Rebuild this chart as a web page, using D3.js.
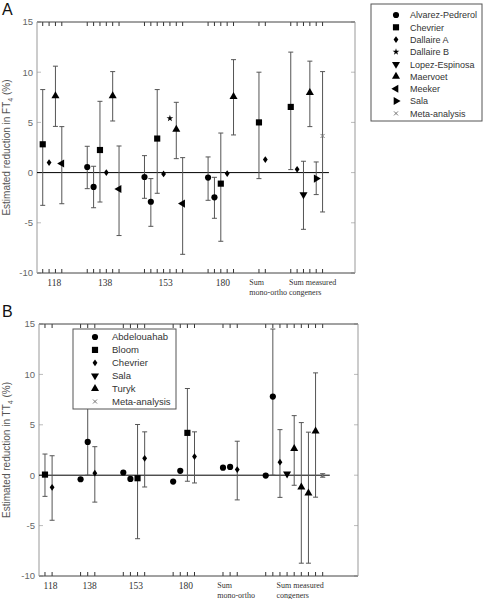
<!DOCTYPE html>
<html><head><meta charset="utf-8">
<script src="https://cdn.jsdelivr.net/npm/d3@7"></script>
<style>html,body{margin:0;padding:0;background:#fff}
.sans{font-family:"Liberation Sans",Arial,sans-serif}
.serif{font-family:"Liberation Serif","Times New Roman",serif}
</style>
</head><body>
<svg id="c" width="484" height="599"></svg>
<script>
// ---------- shared ----------
const yTicks = [-10, -5, 0, 5, 10, 15];
const yDomain = [-10, 15];

// ---------- Panel A (FT4) ----------
const groupsA = ["118", "138", "153", "180", "Sum|mono-ortho", "Sum measured|congeners"];
const studyA = [
  "Chevrier","Dallaire A","Maervoet","Meeker",
  "Alvarez-Pedrerol","Alvarez-Pedrerol","Chevrier","Dallaire A","Maervoet","Meeker",
  "Alvarez-Pedrerol","Alvarez-Pedrerol","Chevrier","Dallaire A","Dallaire B","Maervoet","Meeker",
  "Alvarez-Pedrerol","Alvarez-Pedrerol","Chevrier","Dallaire A","Maervoet",
  "Chevrier","Dallaire A",
  "Chevrier","Dallaire A","Lopez-Espinosa","Maervoet","Sala","Meta-analysis"
];
const groupOfA = [0,0,0,0, 1,1,1,1,1,1, 2,2,2,2,2,2,2, 3,3,3,3,3, 4,4, 5,5,5,5,5,5];
const valA = [2.82,1.0,7.63,0.9, 0.56,-1.43,2.25,0.0,7.63,-1.63, -0.44,-2.9,3.39,-0.13,5.41,4.31,-3.09, -0.5,-2.46,-1.1,-0.1,7.57, 5.0,1.3, 6.54,0.33,-2.19,7.97,-0.6,3.65];
const loA  = [-3.26,null,4.6,-3.1, -1.6,-3.5,-2.93,null,5.14,-6.27, -2.56,-5.35,-2.06,null,null,1.39,-8.14, -2.76,-4.55,-6.84,null,3.75, -0.6,null, 0.3,null,-5.65,4.58,-2.19,-3.92];
const hiA  = [8.27,null,10.6,4.58, 2.62,0.63,7.1,null,10.06,2.65, 1.69,-0.6,8.27,null,null,7.0,1.49, 1.56,-0.47,3.94,null,11.25, 10.0,null, 12.0,null,1.13,11.1,1.06,10.06];
const legendA = ["Alvarez-Pedrerol","Chevrier","Dallaire A","Dallaire B","Lopez-Espinosa","Maervoet","Meeker","Sala","Meta-analysis"];
const symbolsA = ["circle","square","diamond","star","down","up","left","right","times"];

// ---------- Panel B (TT4) ----------
const groupsB = ["118", "138", "153", "180", "Sum|mono-ortho", "Sum measured|congeners"];
const studyB = [
  "Bloom","Chevrier",
  "Abdelouahab","Abdelouahab","Chevrier",
  "Abdelouahab","Abdelouahab","Bloom","Chevrier",
  "Abdelouahab","Abdelouahab","Bloom","Chevrier",
  "Abdelouahab","Abdelouahab","Chevrier",
  "Abdelouahab","Abdelouahab","Chevrier","Sala","Turyk","Turyk","Turyk","Turyk","Meta-analysis"
];
const groupOfB = [0,0, 1,1,1, 2,2,2,2, 3,3,3,3, 4,4,4, 5,5,5,5,5,5,5,5,5];
const valB = [0.06,-1.2, -0.4,3.3,0.2, 0.27,-0.37,-0.3,1.67, -0.63,0.43,4.2,1.85, 0.75,0.82,0.56, -0.04,7.8,1.29,0.13,2.64,-1.19,-1.79,4.37,-0.02];
const loB  = [-2.1,-4.47, null,0.0,-2.67, null,null,-6.3,-1.17, null,null,-0.6,-0.77, null,null,-2.45, null,0.0,-2.2,null,-1.0,-8.73,-8.73,-2.18,-0.2];
const hiB  = [2.1,1.93, null,7.0,2.83, null,null,5.03,4.3, null,null,8.6,4.3, null,null,3.37, null,14.5,4.52,null,5.91,5.22,4.27,10.15,0.15];
const legendB = ["Abdelouahab","Bloom","Chevrier","Sala","Turyk","Meta-analysis"];
const symbolsB = ["circle","square","diamond","down","up","times"];

// ---------- drawing ----------
const svg = d3.select("#c");
const GAP = 3;

function symbolPath(kind) {
  switch (kind) {
    case "circle": return d3.symbol(d3.symbolCircle, 30)();
    case "square": return d3.symbol(d3.symbolSquare, 38)();
    case "diamond": return "M0,-3.4L2.4,0L0,3.4L-2.4,0Z";
    case "star": return d3.symbol(d3.symbolStar, 14)();
    case "up": case "down": case "left": case "right": return d3.symbol(d3.symbolTriangle, 28)();
    case "times": return "M-2,-2L2,2M2,-2L-2,2";
  }
}
const rot = {up:0, down:180, left:-90, right:90};
function drawSymbol(g, kind, x, y) {
  const p = g.append("path").attr("d", symbolPath(kind))
    .attr("transform", `translate(${x},${y})` + (kind in rot ? ` rotate(${rot[kind]})` : ""));
  if (kind === "times") p.attr("fill", "none").attr("stroke", "#777").attr("stroke-width", 1);
  else p.attr("fill", "#000");
}

function panel(cfg) {
  const {groups, study, groupOf, val, lo, hi, legend, symbols} = cfg;
  const g = svg.append("g");
  const counts = groups.map((_, i) => groupOf.filter(v => v === i).length);
  const starts = [];
  let s = 0;
  counts.forEach((c) => { starts.push(s); s += c + GAP; });
  const seen = groups.map(() => 0);
  const slot = groupOf.map(gi => starts[gi] + (seen[gi]++));
  const lastSlot = d3.max(slot);

  const x = d3.scaleLinear().domain(cfg.xDomain).range([cfg.x0, cfg.x1]);
  const y = d3.scaleLinear().domain(yDomain).range([cfg.y1, cfg.y0]);

  yTicks.forEach(t => {
    g.append("line").attr("x1", cfg.x0).attr("x2", cfg.x0 + 4).attr("y1", y(t)).attr("y2", y(t)).attr("stroke", "#bbb");
    g.append("line").attr("x1", cfg.x1 - 4).attr("x2", cfg.x1).attr("y1", y(t)).attr("y2", y(t)).attr("stroke", "#bbb");
    g.append("text").attr("class", "sans").attr("x", cfg.x0 - 4).attr("y", y(t) + 3.3).attr("text-anchor", "end")
      .attr("font-size", 9.5).attr("fill", "#666").text(t);
  });
  slot.forEach(sl => {
    g.append("line").attr("x1", x(sl)).attr("x2", x(sl)).attr("y1", cfg.y0).attr("y2", cfg.y0 + 4).attr("stroke", "#333");
    g.append("line").attr("x1", x(sl)).attr("x2", x(sl)).attr("y1", cfg.y1).attr("y2", cfg.y1 - 4).attr("stroke", "#333");
  });
  g.append("line").attr("x1", cfg.x0).attr("x2", cfg.x1).attr("y1", cfg.y0).attr("y2", cfg.y0).attr("stroke", "#444");
  g.append("line").attr("x1", cfg.x0).attr("x2", cfg.x1).attr("y1", cfg.y1).attr("y2", cfg.y1).attr("stroke", "#444");
  g.append("line").attr("x1", cfg.x0).attr("x2", cfg.x0).attr("y1", cfg.y0).attr("y2", cfg.y1).attr("stroke", "#999");
  g.append("line").attr("x1", cfg.x1).attr("x2", cfg.x1).attr("y1", cfg.y0).attr("y2", cfg.y1).attr("stroke", "#999");
  g.append("line").attr("x1", cfg.x0).attr("x2", x(lastSlot + 1)).attr("y1", y(0)).attr("y2", y(0)).attr("stroke", "#000");

  groups.forEach((lab, gi) => {
    const cx = x(starts[gi] + (counts[gi] - 1) / 2);
    const lines = lab.split("|");
    if (lines.length === 1) {
      g.append("text").attr("class", "serif").attr("x", cx + 2).attr("y", cfg.y1 + 13).attr("text-anchor", "middle")
        .attr("font-size", 9.5).attr("fill", "#333").text(lab);
    } else {
      const t = g.append("text").attr("class", "serif").attr("font-size", 8).attr("fill", "#333");
      const spans = lines.map((l, i) => t.append("tspan").attr("y", cfg.y1 + 12 + i * 10).text(l));
      const w = d3.max(spans.map(sp => sp.node().getComputedTextLength()));
      spans.forEach(sp => sp.attr("x", cx + 6 - w / 2));
    }
  });

  val.forEach((v, i) => {
    if (lo[i] == null) return;
    const xx = x(slot[i]);
    g.append("line").attr("x1", xx).attr("x2", xx).attr("y1", y(lo[i])).attr("y2", y(hi[i])).attr("stroke", "#555");
    [lo[i], hi[i]].forEach(e => g.append("line").attr("x1", xx - 2.5).attr("x2", xx + 2.5).attr("y1", y(e)).attr("y2", y(e)).attr("stroke", "#555"));
  });
  val.forEach((v, i) => {
    const kind = symbols[legend.indexOf(study[i])];
    drawSymbol(g, kind, x(slot[i]), y(v));
  });

  const cy = (cfg.y0 + cfg.y1) / 2;
  const yl = g.append("text").attr("class", "sans").attr("transform", `translate(10,${cy}) rotate(-90)`).attr("text-anchor", "middle")
    .attr("font-size", 10).attr("fill", "#555");
  yl.append("tspan").text("Estimated reduction in " + cfg.yvar);
  yl.append("tspan").attr("font-size", 7).attr("dy", 2.5).text("4");
  yl.append("tspan").attr("dy", -2.5).text(" (%)");

  g.append("text").attr("class", "sans").attr("x", 2).attr("y", cfg.titleY)
    .attr("font-size", 16).attr("fill", "#111").text(cfg.title);

  const L = cfg.legendBox;
  g.append("rect").attr("x", L.x).attr("y", L.y).attr("width", L.w).attr("height", L.h)
    .attr("fill", "#fff").attr("stroke", "#555");
  legend.forEach((name, i) => {
    const ly = L.firstY + i * L.step;
    drawSymbol(g, symbols[i], L.mx, ly);
    g.append("text").attr("class", "sans").attr("x", L.tx).attr("y", ly + 3.3)
      .attr("font-size", L.fs).attr("fill", "#333").text(name);
  });
}

panel({
  groups: groupsA, study: studyA, groupOf: groupOfA, val: valA, lo: loA, hi: hiA,
  legend: legendA, symbols: symbolsA,
  x0: 37, x1: 355, y0: 22, y1: 273, xDomain: [-0.9, 49.1],
  yvar: "FT", title: "A", titleY: 15,
  legendBox: {x: 371, y: 4, w: 111, h: 117, firstY: 15, step: 12.3, mx: 396, tx: 410, fs: 9}
});
panel({
  groups: groupsB, study: studyB, groupOf: groupOfB, val: valB, lo: loB, hi: hiB,
  legend: legendB, symbols: symbolsB,
  x0: 39, x1: 358, y0: 324, y1: 576, xDomain: [-0.84, 43.96],
  yvar: "TT", title: "B", titleY: 317,
  legendBox: {x: 73, y: 329, w: 103, h: 80, firstY: 337, step: 12.9, mx: 95, tx: 112, fs: 9.5}
});
</script>
</body></html>
